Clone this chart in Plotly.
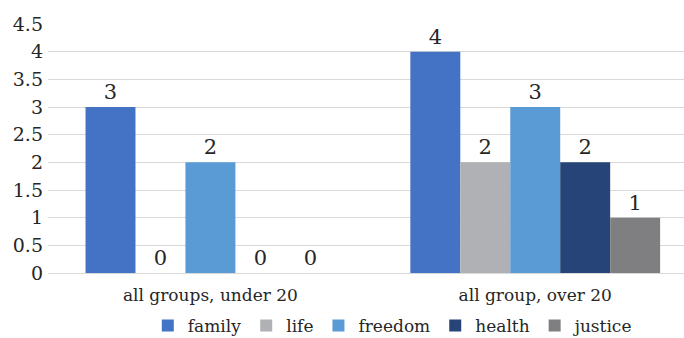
import plotly.graph_objects as go

categories = ["all groups, under 20", "all group, over 20"]
series_names = ["family", "life", "freedom", "health", "justice"]
family = [3, 4]
life = [0, 2]
freedom = [2, 3]
health = [0, 2]
justice = [0, 1]
values = [family, life, freedom, health, justice]
colors = ["#4472C4", "#B0B1B4", "#5B9BD5", "#264478", "#7F7F82"]
y_ticks = [0, 0.5, 1, 1.5, 2, 2.5, 3, 3.5, 4, 4.5]

FONT = "DejaVu Serif"
TXT = "#262626"
fig = go.Figure()
for name, vals, col in zip(series_names, values, colors):
    fig.add_trace(go.Bar(
        name=name, x=categories, y=vals, marker_color=col,
        marker_line_width=0,
        text=[str(v) for v in vals], textposition="outside",
        textfont=dict(family=FONT, size=21, color=TXT),
        cliponaxis=False,
    ))

fig.update_layout(
    width=684, height=338,
    margin=dict(l=48, r=0, t=24, b=65, autoexpand=False),
    paper_bgcolor="white", plot_bgcolor="white",
    barmode="group", bargap=0.231, bargroupgap=0,
    font=dict(family=FONT, color=TXT),
    legend=dict(orientation="h", xref="container", yref="container",
                x=0.575, xanchor="center", y=0.036, yanchor="middle",
                font=dict(family=FONT, size=17, color=TXT),
                itemwidth=30, tracegroupgap=0, traceorder="normal"),
    showlegend=True,
)
fig.update_xaxes(type="category", range=[-0.5, 1.458], showgrid=False, showline=False,
                 automargin=False, ticks="", ticklabelstandoff=10,
                 tickfont=dict(family=FONT, size=17, color=TXT))
fig.update_yaxes(range=[0, 4.5], tickvals=y_ticks, ticktext=[str(t) for t in y_ticks],
                 showgrid=True, gridcolor="#D9D9D9", gridwidth=1,
                 zeroline=True, zerolinecolor="#D9D9D9", zerolinewidth=1,
                 automargin=False, ticks="", ticklabelstandoff=4,
                 tickfont=dict(family=FONT, size=19, color=TXT))
fig.write_html("out.html")
